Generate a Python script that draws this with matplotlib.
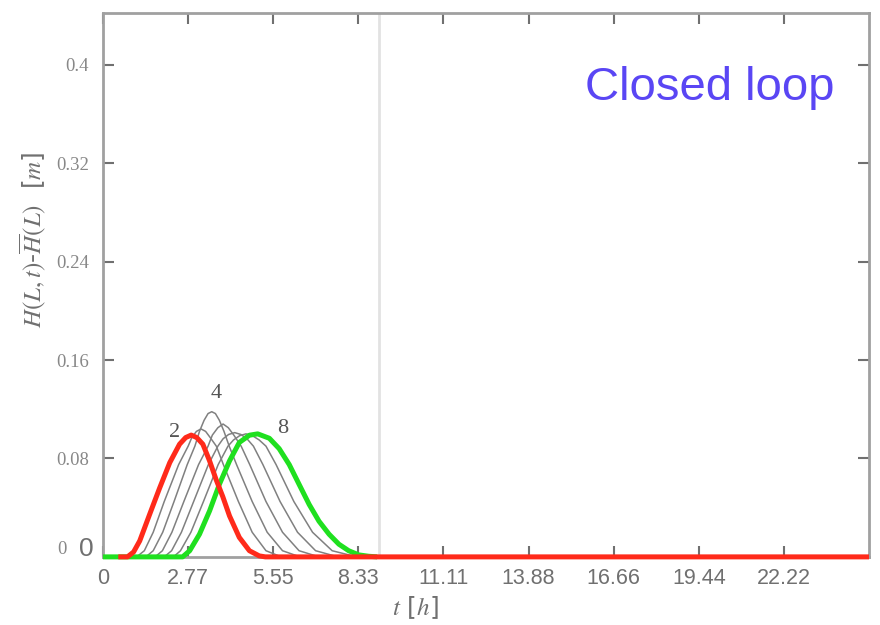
import matplotlib
matplotlib.use("Agg")
import matplotlib.pyplot as plt

# time axis in hours, ticks every 10000 s
xtick_pos = [0, 10000 / 3600, 20000 / 3600, 30000 / 3600, 40000 / 3600,
             50000 / 3600, 60000 / 3600, 70000 / 3600, 80000 / 3600]
xtick_labels = ["0", "2.77", "5.55", "8.33", "11.11", "13.88", "16.66", "19.44", "22.22"]
ytick_pos = [0, 0.08, 0.16, 0.24, 0.32, 0.4]
ytick_labels = ["", "0.08", "0.16", "0.24", "0.32", "0.4"]

# curve 2 (red)
red_t = [0.5, 0.8, 1.0, 1.2, 1.53, 1.85, 2.18, 2.5, 2.7, 2.88, 3.06, 3.26, 3.48,
         3.69, 3.91, 4.13, 4.45, 4.78, 5.1, 5.3, 25.0]
red_v = [0, 0, 0.004, 0.013, 0.035, 0.056, 0.0766, 0.0916, 0.097, 0.099, 0.097,
         0.0916, 0.078, 0.063, 0.049, 0.0333, 0.0158, 0.005, 0.0008, 0, 0]

# curve 8 (green)
green_t = [0.0, 2.6, 2.83, 3.15, 3.48, 3.8, 4.13, 4.45, 4.78, 5.05, 5.43, 5.75,
           6.08, 6.4, 6.73, 7.05, 7.38, 7.7, 8.02, 8.35, 8.67, 8.95]
green_v = [0, 0, 0.005, 0.0184, 0.0374, 0.059, 0.078, 0.093, 0.0989, 0.100,
           0.0964, 0.088, 0.075, 0.059, 0.0426, 0.029, 0.0184, 0.0103, 0.005,
           0.0016, 0.0005, 0]

# intermediate curves 3..7 (gray)
c3_t = [1.1, 1.35, 1.64, 2.00, 2.47, 2.78, 2.9, 3.05, 3.2, 3.35, 3.5, 3.70, 3.93,
        4.42, 4.87, 5.32, 5.82]
c3_v = [0, 0.005, 0.02, 0.045, 0.075, 0.09, 0.097, 0.102, 0.104, 0.102, 0.097,
        0.09, 0.075, 0.045, 0.02, 0.005, 0]
c4_t = [1.4, 1.64, 1.95, 2.32, 2.75, 3.0, 3.15, 3.3, 3.43, 3.55, 3.67, 3.8, 3.95,
        4.12, 4.36, 4.87, 5.36, 5.86, 6.43]
c4_v = [0, 0.005, 0.02, 0.045, 0.075, 0.09, 0.102, 0.111, 0.1165, 0.118, 0.1165,
        0.111, 0.102, 0.09, 0.075, 0.045, 0.02, 0.005, 0]
c5_t = [1.7, 1.94, 2.25, 2.64, 3.12, 3.43, 3.57, 3.75, 3.92, 4.09, 4.27, 4.51,
        4.79, 5.32, 5.86, 6.40, 7.05]
c5_v = [0, 0.005, 0.02, 0.045, 0.075, 0.09, 0.099, 0.105, 0.108, 0.105, 0.099,
        0.09, 0.075, 0.045, 0.02, 0.005, 0]
c6_t = [2.0, 2.24, 2.56, 2.96, 3.44, 3.75, 3.92, 4.1, 4.30, 4.5, 4.7, 4.91, 5.22,
        5.78, 6.35, 6.94, 7.67]
c6_v = [0, 0.005, 0.02, 0.045, 0.075, 0.09, 0.096, 0.0995, 0.101, 0.0995, 0.096,
        0.09, 0.075, 0.045, 0.02, 0.005, 0]
c7_t = [2.3, 2.53, 2.87, 3.28, 3.76, 4.08, 4.26, 4.46, 4.67, 4.88, 5.1, 5.32, 5.65,
        6.23, 6.84, 7.48, 8.28]
c7_v = [0, 0.005, 0.02, 0.045, 0.075, 0.09, 0.095, 0.0985, 0.100, 0.0985, 0.095,
        0.09, 0.075, 0.045, 0.02, 0.005, 0]

marker_t = 9.0  # vertical gray line

plt.rcParams["mathtext.fontset"] = "stix"

fig = plt.figure(figsize=(8.8, 6.25), dpi=100)
ax = fig.add_axes([0.117, 0.109, 0.8705, 0.870])

ax.axvline(marker_t, color="#e2e2e2", lw=2, zorder=1)

for t, v in [(c3_t, c3_v), (c4_t, c4_v), (c5_t, c5_v), (c6_t, c6_v), (c7_t, c7_v)]:
    ax.plot(t, v, color="#808080", lw=1.1, zorder=2)

ax.plot(green_t, green_v, color="#1fe01f", lw=3.6, zorder=3, clip_on=False,
        solid_capstyle="butt")
ax.plot(red_t, red_v, color="#ff2a1a", lw=3.6, zorder=4, clip_on=False,
        solid_capstyle="butt")

ax.set_xlim(0, 25)
ax.set_ylim(0, 0.442)

for s in ax.spines.values():
    s.set_color("#a0a0a0")
    s.set_linewidth(2)

ax.set_xticks(xtick_pos)
ax.set_xticklabels(xtick_labels, family="Liberation Sans", fontsize=15.5, color="#707070")
ax.set_yticks(ytick_pos)
ax.set_yticklabels(ytick_labels, family="Liberation Serif", fontsize=13.5, color="#888888")
ax.tick_params(direction="in", length=8, width=1.5, color="#707070",
               top=True, right=True)
ax.tick_params(axis="x", pad=8)
ax.tick_params(axis="y", pad=10)

# curve numbers
ax.text(2.34, 0.1007, "2", family="Liberation Serif", fontsize=16, color="#555555",
        ha="center", va="center")
ax.text(3.70, 0.133, "4", family="Liberation Serif", fontsize=16, color="#555555",
        ha="center", va="center")
ax.text(5.88, 0.104, "8", family="Liberation Serif", fontsize=16, color="#555555",
        ha="center", va="center")

ax.text(0.955, 0.862, "Closed loop", transform=ax.transAxes, ha="right", va="center",
        family="Liberation Sans", fontsize=34, color="#5a46f4")

# zeros next to the y axis: small serif tick label and a large one
fig.text(62 / 880, 1 - 550 / 625, "0", ha="center", va="center",
         family="Liberation Serif", fontsize=13.5, color="#888888")
fig.text(86 / 880, 1 - 549 / 625, "0", ha="center", va="center",
         family="Liberation Sans", fontsize=19, color="#707070")

fig.text(0.037, 0.616, r"$H(L,t)$-$\overline{H}(L)$  [$m$]", rotation=90,
         ha="center", va="center", fontsize=18, color="#707070")
fig.text(0.472, 0.028, r"$t$ [$h$]", ha="center", va="center", fontsize=18,
         color="#707070")

fig.savefig("out.png", dpi=100)
